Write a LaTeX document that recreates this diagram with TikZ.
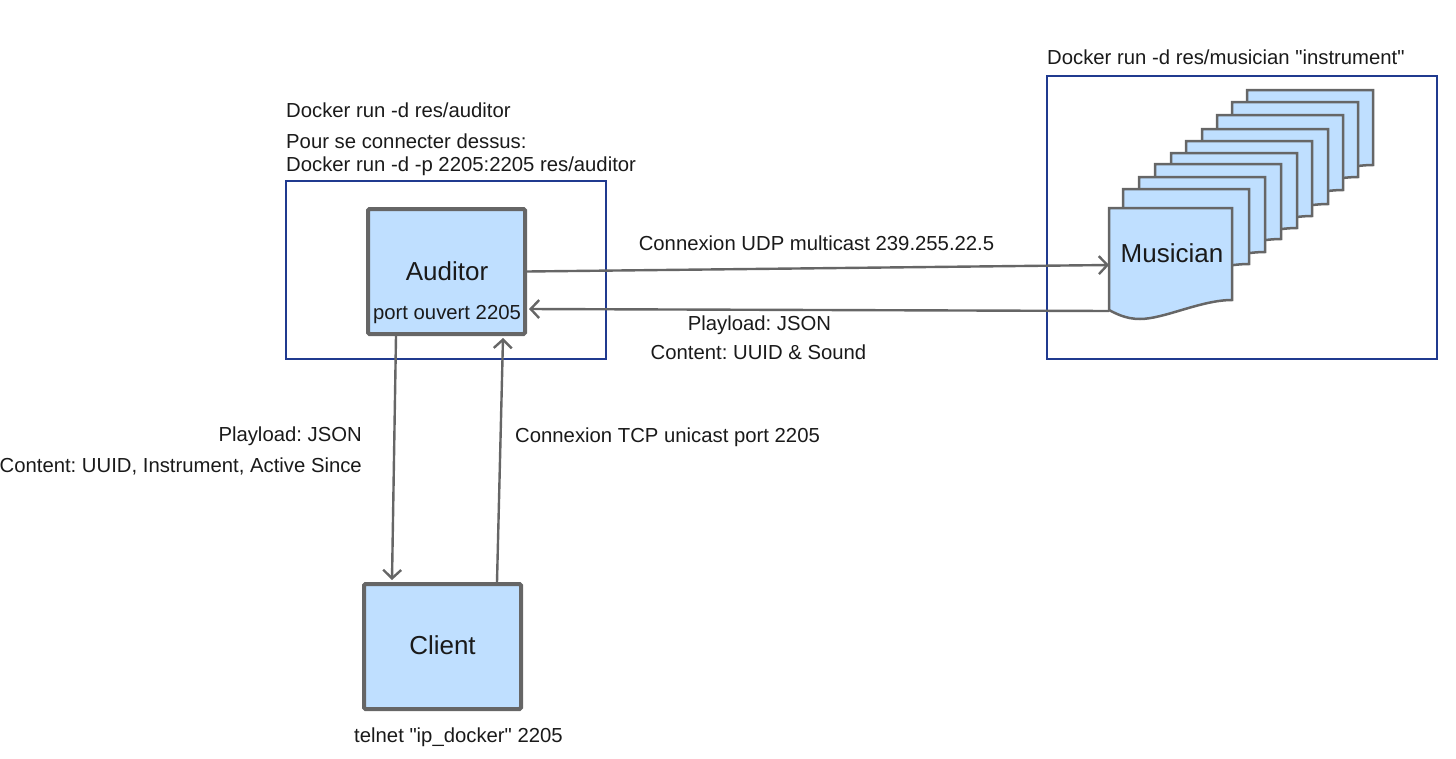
\documentclass[tikz,border=0pt]{standalone}
\usepackage{fontspec}
\setmainfont{Liberation Sans}
\usetikzlibrary{arrows.meta,calc}
\definecolor{boxfill}{HTML}{BFDFFF}
\definecolor{boxline}{HTML}{666666}
\definecolor{contline}{HTML}{203A8F}
\definecolor{txt}{HTML}{1A1A1A}
\frenchspacing
\tikzset{
  container/.style={draw=contline, line width=2.3pt},
  mainbox/.style={draw=boxline, fill=boxfill, line width=4pt, rounded corners=1.5pt,
    minimum width=157pt, minimum height=125pt, inner sep=0pt, text=txt,
    font=\fontsize{26}{30}\selectfont},
  page/.style={draw=boxline, fill=boxfill, line width=2.5pt, line join=miter},
  lbl/.style={inner sep=0pt, text=txt, font=\fontsize{20.3}{24}\selectfont, text height=14.5pt, text depth=0pt},
  biglbl/.style={inner sep=0pt, text=txt, font=\fontsize{26}{30}\selectfont, text height=18.7pt, text depth=0pt},
  conn/.style={draw=boxline, line width=2.4pt, -{Straight Barb[length=8.5pt,width=18pt,line width=2.4pt]}},
}
\newcommand\backpage[2]{%
  \filldraw[page] (#1,#2) -- ++(126,0) -- ++(0,75)
    .. controls ++(-31.5,0) and ($(#1,#2)+(56.7,90.5)$) .. ($(#1,#2)+(31.5,90.5)$)
    .. controls ++(-16,0) and ($(#1,#2)+(6,88)$) .. ($(#1,#2)+(0,83)$) -- cycle;}
\begin{document}
\begin{tikzpicture}[x=1pt,y=-1pt]
\useasboundingbox (0,0) rectangle (1456,758);
% containers
\draw[container] (286,181) rectangle (606,359);
\draw[container] (1047,76) rectangle (1437,359);
% container labels
\node[lbl, anchor=west] (t1) at (286,110) {Docker run -d res/auditor};
\node[lbl, anchor=west] (t2) at (286,141) {Pour se connecter dessus:};
\node[lbl, anchor=west] (t3) at (286,164) {Docker run -d -p 2205:2205 res/auditor};
\node[lbl, anchor=west] (t4) at (1047,57) {Docker run -d res/musician \textquotedbl instrument\textquotedbl};
% auditor
\node[mainbox] (aud) at (446.5,271.5) {};
\node[biglbl] (audt) at (447,271) {Auditor};
\node[lbl] (port) at (447,312) {port ouvert 2205};
% client
\node[mainbox] (cli) at (442.5,646.5) {};
\node[biglbl] (clit) at (442.5,645) {Client};
\node[lbl] (tel) at (458.5,735) {telnet \textquotedbl ip\_docker\textquotedbl{} 2205};
% musician stack
\backpage{1247}{90}
\backpage{1232}{102}
\backpage{1217}{115}
\backpage{1202}{129}
\backpage{1186}{141}
\backpage{1171}{153}
\backpage{1155}{164}
\backpage{1139}{177}
\backpage{1123}{189}
\filldraw[page] (1109,208) -- (1232,208) -- (1232,300)
  .. controls (1201,300) and (1164,319) .. (1140,319)
  .. controls (1125,319) and (1115,313) .. (1109,310) -- cycle;
\node[biglbl] (mus) at (1172,253) {Musician};
\coordinate (musin) at (1109,265);
\coordinate (musout) at (1109,311);
% connectors
\draw[conn] (aud.east) -- (musin);
\draw[conn] (musout) -- ($(aud.east)+(2,37.5)$);
\draw[conn] ($(aud.south)+(-50.5,0)$) -- ($(cli.north)+(-50.5,-2)$);
\draw[conn] ($(cli.north)+(54.5,0)$) -- ($(aud.south)+(56.5,2)$);
% connector labels
\node[lbl] (udp) at (816.5,243) {Connexion UDP multicast 239.255.22.5};
\node[lbl] (pl1) at (759.5,323) {Playload: JSON};
\node[lbl] (ct1) at (758.5,352) {Content: UUID \& Sound};
\node[lbl, anchor=east] (pl2) at (362,434) {Playload: JSON};
\node[lbl, anchor=east] (ct2) at (362,465) {Content: UUID, Instrument, Active Since};
\node[lbl, anchor=west] (tcp) at (515,435) {Connexion TCP unicast port 2205};
\end{tikzpicture}
\end{document}
